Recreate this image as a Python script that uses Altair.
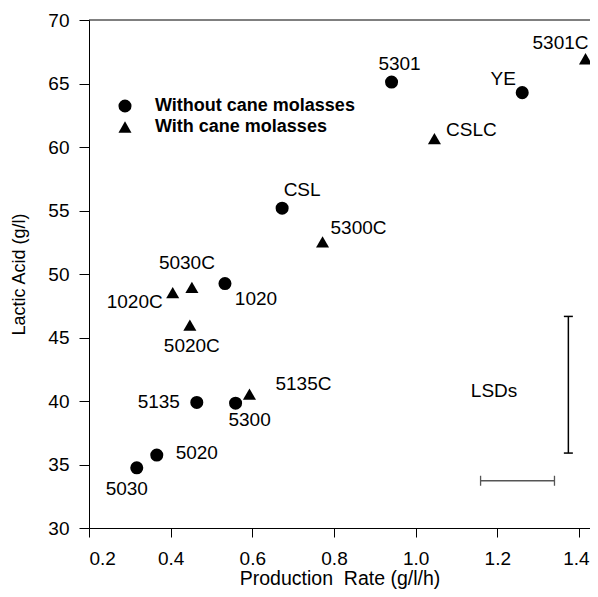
import altair as alt
import pandas as pd

# ---- data ----
names = ["5030", "5020", "5135", "5300", "1020", "CSL", "5301", "YE",
         "1020C", "5030C", "5020C", "5135C", "5300C", "CSLC", "5301C"]
rates = [0.317, 0.366, 0.464, 0.559, 0.533, 0.673, 0.941, 1.261,
         0.405, 0.452, 0.447, 0.593, 0.772, 1.046, 1.416]
acids = [34.74, 35.74, 39.89, 39.83, 49.25, 55.18, 65.11, 64.28,
         48.54, 48.94, 45.97, 40.54, 52.53, 60.66, 66.95]
groups = ["Without cane molasses", "Without cane molasses", "Without cane molasses",
          "Without cane molasses", "Without cane molasses", "Without cane molasses",
          "Without cane molasses", "Without cane molasses",
          "With cane molasses", "With cane molasses", "With cane molasses",
          "With cane molasses", "With cane molasses", "With cane molasses",
          "With cane molasses"]
group_order = ["Without cane molasses", "With cane molasses"]

x_ticks = [0.2, 0.4, 0.6, 0.8, 1.0, 1.2, 1.4]
y_ticks = [30, 35, 40, 45, 50, 55, 60, 65, 70]

# LSD bars
lsd_acid_rate = [1.374]
lsd_acid_low = [35.9]
lsd_acid_high = [46.66]
lsd_rate_acid = [33.72]
lsd_rate_low = [1.159]
lsd_rate_high = [1.340]
lsd_label = ["LSDs"]
lsd_label_rate = [1.192]
lsd_label_acid = [40.8]

# ---- styling (label offsets in pixels) ----
LABEL_OFFSETS = {
    "5301": (8, -18), "YE": (-19, -14), "5301C": (-25, -16), "CSLC": (37, -9),
    "CSL": (20, -18), "5300C": (36, -14), "1020": (31, 15), "5030C": (-5, -24),
    "1020C": (-38, 9), "5020C": (2, 21), "5135": (-38, 0), "5300": (14, 17),
    "5135C": (54, -10), "5020": (40, -2), "5030": (-10, 21),
}
FONT = "Liberation Sans"
W, H = 501, 508

df = pd.DataFrame({"name": names, "rate": rates, "acid": acids, "group": groups})

xscale = alt.Scale(domain=[0.2, 1.427], nice=False, zero=False, padding=0)
yscale = alt.Scale(domain=[30, 70], nice=False, zero=False, padding=0)

xaxis = alt.Axis(values=x_ticks, format=".1f", title="Production\u00a0 Rate (g/l/h)",
                 tickSize=9, labelPadding=12, titlePadding=1, labelFontSize=19,
                 labelOffset=alt.condition("datum.value > 1.3", alt.value(-3), alt.value(0)),
                 titleFontSize=19.5, grid=False, labelFont=FONT, titleFont=FONT,
                 titleFontWeight="normal")
yaxis = alt.Axis(values=y_ticks, format="d", title="Lactic Acid (g/l)",
                 tickSize=10, labelPadding=10, titlePadding=19, labelFontSize=19,
                 titleFontSize=18, grid=False, labelFont=FONT, titleFont=FONT,
                 titleFontWeight="normal")

points = alt.Chart(df).mark_point(filled=True, size=170, opacity=1, color="black").encode(
    x=alt.X("rate:Q", scale=xscale, axis=xaxis),
    y=alt.Y("acid:Q", scale=yscale, axis=yaxis),
    shape=alt.Shape("group:N",
                    scale=alt.Scale(domain=group_order, range=["circle", "triangle-up"]),
                    legend=alt.Legend(orient="none", legendX=27, legendY=77, title=None,
                                      labelFontSize=18, labelFontWeight="bold",
                                      labelFont=FONT, labelColor="black", labelLimit=400,
                                      symbolSize=170,
                                      symbolFillColor="black", symbolStrokeColor="black",
                                      labelOffset=21, rowPadding=2, padding=0)),
)

label_layers = []
for n in names:
    dx, dy = LABEL_OFFSETS[n]
    label_layers.append(
        alt.Chart(df).transform_filter(alt.datum.name == n).mark_text(
            dx=dx, dy=dy, fontSize=19, font=FONT, color="black",
            align="center", baseline="middle"
        ).encode(x=alt.X("rate:Q", scale=xscale), y=alt.Y("acid:Q", scale=yscale),
                 text="name:N")
    )

lsdv = pd.DataFrame({"rate": lsd_acid_rate, "low": lsd_acid_low, "high": lsd_acid_high})
lsdv_ends = pd.DataFrame({"rate": lsd_acid_rate * 2, "acid": lsd_acid_low + lsd_acid_high})
lsdh = pd.DataFrame({"acid": lsd_rate_acid, "low": lsd_rate_low, "high": lsd_rate_high})
lsdh_ends = pd.DataFrame({"acid": lsd_rate_acid * 2, "rate": lsd_rate_low + lsd_rate_high})
lsdt = pd.DataFrame({"rate": lsd_label_rate, "acid": lsd_label_acid, "label": lsd_label})

v_rule = alt.Chart(lsdv).mark_rule(color="black", strokeWidth=1.5).encode(
    x=alt.X("rate:Q", scale=xscale), y=alt.Y("low:Q", scale=yscale), y2="high:Q")
v_caps = alt.Chart(lsdv_ends).mark_tick(orient="horizontal", size=9, thickness=1.5,
                                          color="black", opacity=1).encode(
    x=alt.X("rate:Q", scale=xscale), y=alt.Y("acid:Q", scale=yscale))
h_rule = alt.Chart(lsdh).mark_rule(color="#555555", strokeWidth=1.3).encode(
    x=alt.X("low:Q", scale=xscale), x2="high:Q", y=alt.Y("acid:Q", scale=yscale))
h_caps = alt.Chart(lsdh_ends).mark_tick(orient="vertical", size=10, thickness=1.3,
                                         color="#555555", opacity=1).encode(
    x=alt.X("rate:Q", scale=xscale), y=alt.Y("acid:Q", scale=yscale))
lsd_text = alt.Chart(lsdt).mark_text(fontSize=19, font=FONT, color="black",
                                      align="center", baseline="middle").encode(
    x=alt.X("rate:Q", scale=xscale), y=alt.Y("acid:Q", scale=yscale), text="label:N")

top_line = alt.Chart(pd.DataFrame({"acid": [70]})).mark_rule(color="black", strokeWidth=1).encode(
    y=alt.Y("acid:Q", scale=yscale), x=alt.value(0), x2=alt.value(W))

chart = alt.layer(points, *label_layers, v_rule, v_caps, h_rule, h_caps, lsd_text, top_line).properties(
    width=W, height=H, autosize="none", background="white",
    padding={"left": 81, "top": 12, "right": 0, "bottom": 61},
).configure_view(stroke=None).configure_axis(
    domainColor="black", tickColor="black", labelColor="black", titleColor="black",
    labelFont=FONT, titleFont=FONT, titleFontWeight="normal", domainWidth=1, tickWidth=1,
)

chart.save("out.html", embed_options={"renderer": "svg", "actions": False})
